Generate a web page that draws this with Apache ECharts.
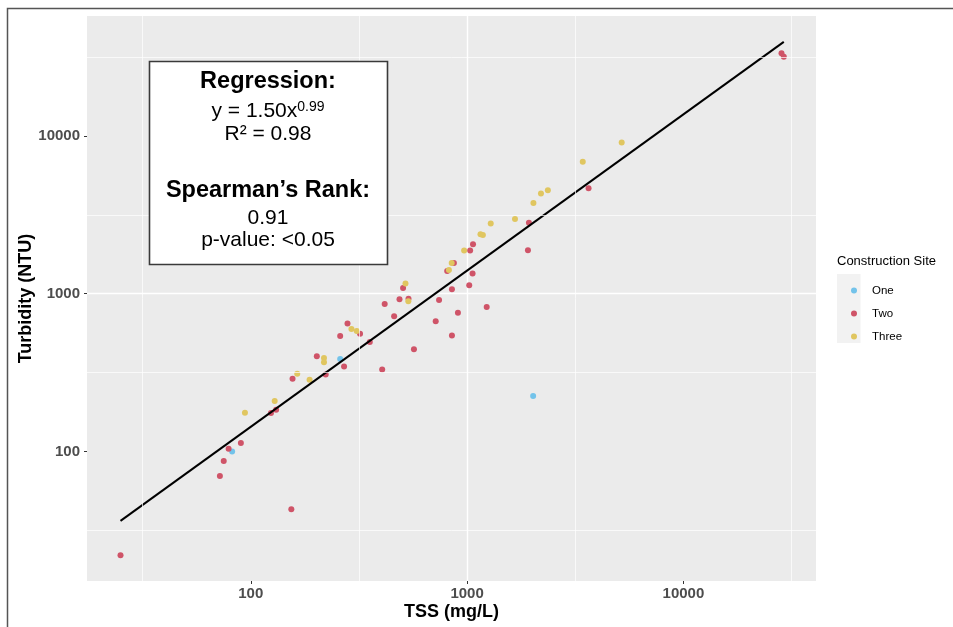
<!DOCTYPE html>
<html>
<head>
<meta charset="utf-8">
<title>Turbidity vs TSS</title>
<script src="https://cdn.jsdelivr.net/npm/echarts@6/dist/echarts.min.js"></script>
<style>
  html, body { margin: 0; padding: 0; background: #ffffff; }
  #chart { width: 953px; height: 627px; }
</style>
</head>
<body>
<div id="chart"></div>
<script>
// TSS (mg/L) and turbidity (NTU) samples, one array per construction site
const siteOne = [[82, 100], [259, 385], [2020, 225]];
const siteTwo = [
  [25, 22], [72, 70], [75, 87], [79, 104], [90, 113], [124, 175], [131, 184],
  [154, 43], [156, 289], [202, 401], [222, 307], [259, 539], [270, 346],
  [280, 648], [320, 558], [355, 494], [405, 331], [416, 860], [460, 720],
  [487, 921], [506, 1086], [536, 930], [568, 445], [716, 668], [742, 913],
  [809, 1390], [851, 1066], [851, 544], [869, 1565], [907, 758], [1023, 1130],
  [1033, 1876], [1060, 1340], [1065, 2056], [1232, 822], [1911, 1884],
  [1931, 2818], [3643, 4659], [28400, 33400], [29100, 31700]
];
const siteThree = [
  [94, 176], [129, 209], [164, 311], [187, 285], [218, 391], [218, 367],
  [292, 596], [309, 580], [519, 1158], [535, 894], [824, 1411], [849, 1565],
  [969, 1876], [1153, 2380], [1183, 2355], [1286, 2786], [1665, 2971],
  [2026, 3753], [2195, 4318], [2362, 4524], [3425, 6850], [5184, 9070]
];
const siteNames = ['One', 'Two', 'Three'];
const siteColors = ['#73C3EA', '#CF5468', '#E0C660'];

// Fitted power law y = a * x^b and the rank statistics
const regA = 1.50;
const regB = 0.99;
const rSquared = 0.98;
const spearmanRho = 0.91;
const pValueText = '<0.05';

// Axis breaks (major, labelled) and half-decade minor breaks
const tssTicks = [100, 1000, 10000];
const turbTicks = [100, 1000, 10000];
const tssMinor = [31.62, 316.2, 3162, 31623];
const turbMinor = [31.62, 316.2, 3162, 31623];

const FONT = '"Liberation Sans", Arial, sans-serif';

// Fit line spans the observed TSS range
const allTss = siteOne.concat(siteTwo, siteThree).map(d => d[0]);
const fitX = [Math.min.apply(null, allTss), Math.max.apply(null, allTss)];
const fitLine = fitX.map(x => [x, regA * Math.pow(x, regB)]);

const chart = echarts.init(document.getElementById('chart'), null, { renderer: 'canvas' });

function logAxis(min, max, ticks, name, isY) {
  return {
    type: 'log',
    logBase: 10,
    min: min,
    max: max,
    name: name,
    nameLocation: 'middle',
    nameGap: isY ? 52 : 22,
    nameRotate: isY ? 90 : 0,
    nameMoveOverlap: false,
    nameTextStyle: { fontFamily: FONT, fontSize: 18, fontWeight: 'bold', color: '#000000' },
    axisLine: { show: false },
    axisTick: {
      show: true, length: 3, customValues: ticks,
      lineStyle: { color: '#333333', width: 1 }
    },
    axisLabel: {
      customValues: ticks,
      formatter: v => String(Math.round(v)),
      fontFamily: FONT, fontSize: 15, fontWeight: 'bold', color: '#4D4D4D',
      margin: isY ? 7 : 5
    },
    splitLine: {
      show: true, showMinLine: false, showMaxLine: false,
      lineStyle: { color: '#FFFFFF', width: 1.4 }
    }
  };
}

const boxCx = 268;
const textBase = { fill: '#000000', textAlign: 'center', textVerticalAlign: 'middle' };

const option = {
  animation: false,
  backgroundColor: '#FFFFFF',
  grid: {
    left: 87, top: 16, width: 729, height: 565,
    show: true, backgroundColor: '#EBEBEB', borderWidth: 0,
    outerBoundsMode: 'none'
  },
  xAxis: logAxis(17.5, 41000, tssTicks, 'TSS (mg/L)', false),
  yAxis: logAxis(15.1, 57500, turbTicks, 'Turbidity (NTU)', true),
  legend: {
    data: siteNames,
    orient: 'vertical',
    left: 846,
    top: 274,
    icon: 'circle',
    itemWidth: 6,
    itemHeight: 6,
    itemGap: 0,
    z: 5,
    textStyle: {
      fontFamily: FONT, fontSize: 11.5, color: '#000000',
      lineHeight: 23, padding: [0, 0, 0, 10]
    }
  },
  graphic: [
    // outer frame
    {
      type: 'rect', z: -10, silent: true,
      shape: { x: 7.5, y: 8.5, width: 1200, height: 900 },
      style: { fill: 'transparent', stroke: '#555555', lineWidth: 1.5 }
    },
    // legend title and key background
    {
      type: 'text', silent: true, z: 1,
      style: {
        text: 'Construction Site', x: 837, y: 261, fill: '#000000',
        font: '13px ' + FONT, textAlign: 'left', textVerticalAlign: 'middle'
      }
    },
    {
      type: 'rect', silent: true, z: 1,
      shape: { x: 837, y: 274, width: 23.5, height: 69 },
      style: { fill: '#F2F2F2' }
    },
    // statistics box
    {
      type: 'rect', silent: true, z: 10,
      shape: { x: 149.5, y: 61.5, width: 238, height: 203 },
      style: { fill: '#FFFFFF', stroke: '#3A3A3A', lineWidth: 1.6 }
    },
    {
      type: 'text', silent: true, z: 11,
      style: Object.assign({ text: 'Regression:', x: boxCx, y: 82, font: 'bold 23.5px ' + FONT }, textBase)
    },
    {
      type: 'text', silent: true, z: 11,
      style: Object.assign({
        text: '{b|y = ' + regA.toFixed(2) + 'x}{s|' + regB.toFixed(2) + '}',
        x: boxCx, y: 111,
        rich: {
          b: { fontFamily: FONT, fontSize: 21, fill: '#000000', color: '#000000', verticalAlign: 'bottom' },
          s: { fontFamily: FONT, fontSize: 14, fill: '#000000', color: '#000000', verticalAlign: 'top' }
        }
      }, textBase)
    },
    {
      type: 'text', silent: true, z: 11,
      style: Object.assign({ text: 'R\u00B2 = ' + rSquared.toFixed(2), x: boxCx, y: 134, font: '21px ' + FONT }, textBase)
    },
    {
      type: 'text', silent: true, z: 11,
      style: Object.assign({ text: 'Spearman\u2019s Rank:', x: boxCx, y: 191, font: 'bold 23.5px ' + FONT }, textBase)
    },
    {
      type: 'text', silent: true, z: 11,
      style: Object.assign({ text: spearmanRho.toFixed(2), x: boxCx, y: 218.5, font: '21px ' + FONT }, textBase)
    },
    {
      type: 'text', silent: true, z: 11,
      style: Object.assign({ text: 'p-value: ' + pValueText, x: boxCx, y: 240.5, font: '21px ' + FONT }, textBase)
    }
  ],
  series: [
    {
      // minor grid lines at half decades
      type: 'scatter', name: 'minor-grid', data: [], z: 1, silent: true,
      markLine: {
        silent: true, symbol: 'none', animation: false,
        label: { show: false },
        lineStyle: { color: '#FFFFFF', width: 0.7, type: 'solid' },
        emphasis: { disabled: true },
        data: tssMinor.map(v => ({ xAxis: v })).concat(turbMinor.map(v => ({ yAxis: v })))
      }
    },
    {
      type: 'scatter', name: siteNames[0], data: siteOne, symbolSize: 6, z: 3,
      itemStyle: { color: siteColors[0], opacity: 1 }
    },
    {
      type: 'scatter', name: siteNames[1], data: siteTwo, symbolSize: 6, z: 3,
      itemStyle: { color: siteColors[1], opacity: 1 }
    },
    {
      type: 'scatter', name: siteNames[2], data: siteThree, symbolSize: 6, z: 3,
      itemStyle: { color: siteColors[2], opacity: 1 }
    },
    {
      type: 'line', name: 'fit', data: fitLine, z: 4, silent: true,
      showSymbol: false, symbol: 'none',
      lineStyle: { color: '#000000', width: 2 }
    }
  ]
};

chart.setOption(option);
</script>
</body>
</html>
